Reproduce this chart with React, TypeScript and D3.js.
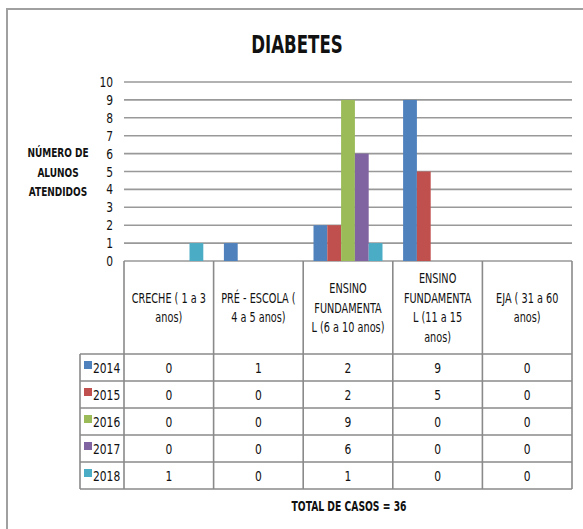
// @ts-nocheck
import React, { useEffect, useRef } from 'react';
import * as d3 from 'd3';

const categories = ['CRECHE', 'PRE', 'EF1', 'EF2', 'EJA'];
const headerLines = [
  ['CRECHE ( 1 a 3', 'anos)'],
  ['PRÉ - ESCOLA (', '4 a 5 anos)'],
  ['ENSINO', 'FUNDAMENTA', 'L (6 a 10 anos)'],
  ['ENSINO', 'FUNDAMENTA', 'L (11 a 15', 'anos)'],
  ['EJA ( 31 a 60', 'anos)'],
];
const years = ['2014', '2015', '2016', '2017', '2018'];
const values2014 = [0, 1, 2, 9, 0];
const values2015 = [0, 0, 2, 5, 0];
const values2016 = [0, 0, 9, 0, 0];
const values2017 = [0, 0, 6, 0, 0];
const values2018 = [1, 0, 1, 0, 0];
const yTicks = [0, 1, 2, 3, 4, 5, 6, 7, 8, 9, 10];
const colors = ['#4F81BD', '#C0504D', '#9BBB59', '#8064A2', '#4BACC6'];

const FONT = "'DejaVu Sans Condensed', 'Liberation Sans', sans-serif";

// texto estrechado horizontalmente (imita Calibri)
const addText = (g, x, y, txt, size, opts = {}) => {
  const sx = opts.sx || 0.82;
  return g.append('text')
    .attr('transform', `translate(${x},${y}) scale(${sx},1)`)
    .attr('text-anchor', opts.anchor || 'middle')
    .style('font-family', FONT)
    .style('font-size', `${size}px`)
    .style('font-weight', opts.bold ? 'bold' : 'normal')
    .style('fill', '#111')
    .text(txt);
};

const App = () => {
  const ref = useRef(null);

  useEffect(() => {
    const svg = d3.select(ref.current);
    svg.selectAll('*').remove();

    const series = [values2014, values2015, values2016, values2017, values2018];

    // area del grafico
    const left = 124, right = 572, top = 82, bottom = 261;
    const headerBottom = 354;
    const rowH = 27;
    const legendLeft = 80;

    const x0 = d3.scaleBand().domain(categories).range([left, right]).padding(0);
    const bw = x0.bandwidth();
    const x1 = d3.scaleBand().domain(years).range([bw * 0.115, bw * 0.885]).padding(0);
    const y = d3.scaleLinear().domain([0, 10]).range([bottom, top]);

    // borde exterior
    svg.append('rect')
      .attr('x', 7).attr('y', 9).attr('width', 600).attr('height', 560)
      .attr('fill', '#fff').attr('stroke', '#a0a0a0').attr('stroke-width', 2);

    // titulo
    addText(svg, 297, 53, 'DIABETES', 24, { bold: true, sx: 0.77 });

    // lineas de grilla
    svg.append('g').selectAll('line')
      .data(yTicks)
      .enter().append('line')
      .attr('x1', left).attr('x2', right)
      .attr('y1', (d) => y(d)).attr('y2', (d) => y(d))
      .attr('stroke', '#999').attr('stroke-width', 1.6);

    // etiquetas eje Y
    const yg = svg.append('g');
    yTicks.forEach((d) => addText(yg, 113, y(d) + 5, d, 14, { anchor: 'end', sx: 0.85 }));

    // titulo eje Y
    const tg0 = svg.append('g');
    ['NÚMERO DE', 'ALUNOS', 'ATENDIDOS'].forEach((t, i) =>
      addText(tg0, 58, 157 + i * 19.5, t, 12.5, { bold: true, sx: 0.8 }));

    // barras
    const groups = svg.append('g').selectAll('g')
      .data(categories)
      .enter().append('g')
      .attr('transform', (d) => `translate(${x0(d)},0)`);

    groups.selectAll('rect')
      .data((c, ci) => years.map((yr, si) => ({ yr, si, v: series[si][ci] })))
      .enter().append('rect')
      .attr('x', (d) => x1(d.yr))
      .attr('width', x1.bandwidth())
      .attr('y', (d) => y(d.v))
      .attr('height', (d) => y(0) - y(d.v))
      .attr('fill', (d) => colors[d.si]);

    // tabla de datos
    const tableBottom = headerBottom + rowH * years.length;
    const tg = svg.append('g');
    const lineStyle = (sel) => sel.attr('stroke', '#8a8a8a').attr('stroke-width', 1.6);

    x0.domain().forEach((c) => {
      tg.append('line').attr('x1', x0(c)).attr('x2', x0(c))
        .attr('y1', bottom).attr('y2', tableBottom).call(lineStyle);
    });
    tg.append('line').attr('x1', right).attr('x2', right)
      .attr('y1', bottom).attr('y2', tableBottom).call(lineStyle);
    tg.append('line').attr('x1', legendLeft).attr('x2', legendLeft)
      .attr('y1', headerBottom).attr('y2', tableBottom).call(lineStyle);

    d3.range(years.length + 1).forEach((i) => {
      tg.append('line').attr('x1', legendLeft).attr('x2', right)
        .attr('y1', headerBottom + i * rowH).attr('y2', headerBottom + i * rowH).call(lineStyle);
    });

    // textos del encabezado
    categories.forEach((c, ci) => {
      const lines = headerLines[ci];
      const start = 307.5 - ((lines.length - 1) * 19.5) / 2;
      lines.forEach((t, li) => addText(tg, x0(c) + bw / 2, start + li * 19.5 + 5, t, 13.5, { sx: 0.8 }));
    });

    // filas
    years.forEach((yr, si) => {
      const ry = headerBottom + si * rowH;
      tg.append('rect')
        .attr('x', 84).attr('y', ry + 7).attr('width', 8).attr('height', 8)
        .attr('fill', colors[si]);
      addText(tg, 93, ry + 18.5, yr, 14, { anchor: 'start', sx: 0.85 });
      categories.forEach((c, ci) => addText(tg, x0(c) + bw / 2, ry + 18.5, series[si][ci], 14, { sx: 0.85 }));
    });

    // total
    addText(svg, 349, 511, 'TOTAL DE CASOS = 36', 13.5, { bold: true, sx: 0.76 });
  }, []);

  return (
    <svg ref={ref} width={583} height={529}
      style={{ position: 'absolute', left: 0, top: 0, background: '#fff' }} />
  );
};

export default App;
